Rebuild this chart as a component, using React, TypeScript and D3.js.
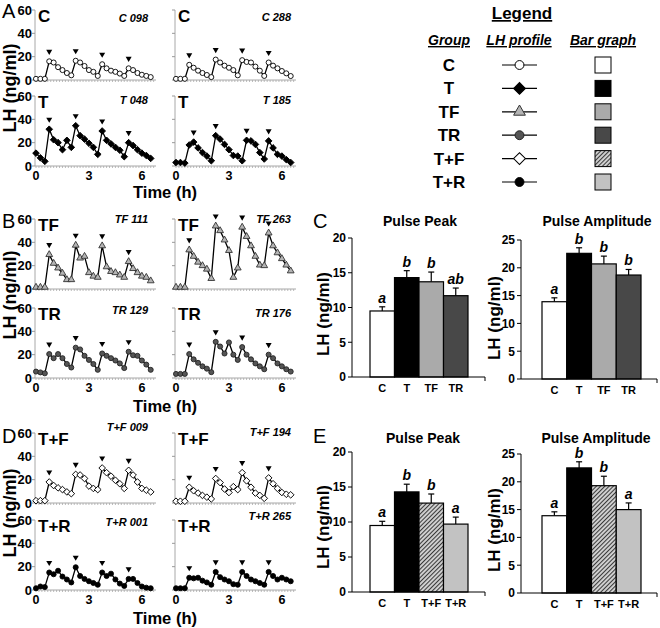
import React from "react";
import * as d3 from "d3";

const FONT = '"Liberation Sans", Arial, Helvetica, sans-serif';

// ---------- LH profile data (ng/ml), sampled every 15 min ----------
const sampleTimes = [0, 0.25, 0.5, 0.75, 1, 1.25, 1.5, 1.75, 2, 2.25, 2.5, 2.75, 3, 3.25, 3.5, 3.75, 4, 4.25, 4.5, 4.75, 5, 5.25, 5.5, 5.75, 6, 6.25, 6.5];

const lhC098 = [1, 1, 1, 16, 15, 11, 8.5, 6, 4, 16.5, 15, 12, 8.5, 7, 3.5, 13.5, 10, 8, 7, 5.5, 3.5, 10, 8.5, 6, 4.5, 3.5, 2.5];
const lhC288 = [1, 1, 1, 13, 10.5, 8, 6, 4.3, 2.5, 17.5, 15, 12.3, 10.5, 8.5, 4, 17, 15.5, 15, 11.5, 8, 3.5, 15, 12.3, 10, 7.7, 5.7, 3.4];
const lhT048 = [11, 7, 4, 31.5, 22.5, 20, 14, 22, 16, 34.5, 26, 23, 19.5, 16, 10, 30, 22, 19, 16, 13.5, 8, 20, 17.5, 14, 11, 9, 6.5];
const lhT185 = [3, 3, 2.5, 18, 20.5, 15.5, 11.5, 8.5, 4.5, 26, 23, 18.5, 14, 9, 8.5, 4.5, 22, 21.5, 18.5, 11.5, 6, 21.5, 15.5, 10, 8.5, 5.5, 3];
const lhTF111 = [1.5, 1.5, 1.5, 29.5, 22, 18, 13.5, 8, 8, 37.5, 26.5, 28, 14, 11, 10, 37, 19, 15, 14, 12, 10, 23.5, 17.5, 14, 11, 10, 7];
const lhTF263 = [1.5, 1.5, 1.5, 33.5, 28, 23, 20, 17, 9, 54, 50, 42, 33, 10, 18, 53, 45, 37, 28, 20.5, 20, 48, 37, 31, 26, 20.5, 15.5];
const lhTR129 = [5.5, 4.8, 4, 20.5, 17, 20.5, 17, 12, 9, 26, 24.5, 19, 15.5, 12, 7, 21, 19, 17, 15, 12.5, 8.5, 22.5, 19.5, 19, 15, 11.5, 7];
const lhTR176 = [3.5, 3.5, 3.5, 20.5, 16, 13, 10, 8, 5, 31, 27, 21, 30.5, 20, 15.5, 26.5, 20, 16, 12.5, 10, 7.5, 20, 17, 12.5, 10, 7.5, 5.5];
const lhTpF009 = [2, 2, 2, 18, 15, 13, 11.5, 9.5, 8, 24.5, 24, 21, 14.5, 12.5, 11.5, 30, 26, 23, 19.5, 16.5, 12.5, 28, 24, 18, 12.5, 11, 9.5];
const lhTpF194 = [1.5, 1.5, 1.5, 13.5, 10.5, 8.5, 6.5, 5, 3.5, 21, 17.5, 12, 9, 14, 11.5, 26, 19, 13.5, 8.5, 6.5, 4, 21.5, 16.5, 12.5, 9, 7.5, 7];
const lhTpR001 = [1.5, 3, 2.5, 15, 13.5, 16.5, 11.5, 9, 6.5, 19.5, 12, 9.5, 7.5, 6, 4.5, 15, 12, 14, 9, 5.5, 3.5, 9.5, 9.5, 6, 3, 2, 1.5];
const lhTpR265 = [1.5, 1.5, 1.5, 10.5, 10, 10.5, 8, 6.5, 4.5, 15.5, 11, 9, 7.5, 5, 4.5, 15.5, 12, 9, 7.5, 6, 4.5, 15.5, 12, 9, 10.5, 9, 7.5];

// pulse onsets (sample index of each marked peak)
const peaksStd = [3, 9, 15, 21];
const peaksT185 = [4, 9, 16, 21];

const profileTicksY = [0, 20, 40, 60];
const profileTicksX = [0, 3, 6];

// ---------- bar graph data ----------
const barGroupsC = ["C", "T", "TF", "TR"];
const peakMeansC = [9.5, 14.3, 13.7, 11.7];
const peakSemC = [0.6, 1.0, 1.4, 1.1];
const peakLettersC = ["a", "b", "b", "ab"];
const ampMeansC = [13.9, 22.6, 20.7, 18.7];
const ampSemC = [0.7, 1.0, 1.4, 1.0];
const ampLettersC = ["a", "b", "b", "b"];

const barGroupsE = ["C", "T", "T+F", "T+R"];
const peakMeansE = [9.5, 14.3, 12.7, 9.7];
const peakSemE = [0.6, 1.1, 1.3, 1.0];
const peakLettersE = ["a", "b", "b", "a"];
const ampMeansE = [13.9, 22.5, 19.3, 15.0];
const ampSemE = [0.7, 1.1, 1.7, 1.2];
const ampLettersE = ["a", "b", "b", "a"];

const peakTicks = [0, 5, 10, 15, 20];
const ampTicks = [0, 5, 10, 15, 20, 25];

const legendGroups = ["C", "T", "TF", "TR", "T+F", "T+R"];

// ---------- styles ----------
const markerStyles: Record<string, { type: string; fill: string; stroke: string }> = {
  C: { type: "circle", fill: "#ffffff", stroke: "#000" },
  T: { type: "diamond", fill: "#000", stroke: "#000" },
  TF: { type: "triangle", fill: "#b4b4b4", stroke: "#333" },
  TR: { type: "circle", fill: "#555", stroke: "#222" },
  "T+F": { type: "diamond", fill: "#ffffff", stroke: "#000" },
  "T+R": { type: "circle", fill: "#000", stroke: "#000" },
};

const barFills: Record<string, string> = {
  C: "#ffffff",
  T: "#000000",
  TF: "#aaaaaa",
  TR: "#484848",
  "T+F": "url(#hatchTF)",
  "T+R": "#c2c2c2",
};

function symbolPath(type: string, big: boolean) {
  if (type === "circle") return d3.symbol(d3.symbolCircle, big ? 62 : 20)() as string;
  if (type === "diamond") return d3.symbol(d3.symbolSquare, big ? 70 : 22)() as string;
  return d3.symbol(d3.symbolTriangle, big ? 60 : 20)() as string;
}

type PlotCfg = {
  values: number[];
  peaks: number[];
  group: string;
  id: string;
  col: number;
  y0: number;
  idY: number;
  bottom: boolean;
};

const plots: PlotCfg[] = [
  { values: lhC098, peaks: peaksStd, group: "C", id: "C 098", col: 0, y0: 80, idY: 22, bottom: false },
  { values: lhC288, peaks: peaksStd, group: "C", id: "C 288", col: 1, y0: 80, idY: 21, bottom: false },
  { values: lhT048, peaks: peaksStd, group: "T", id: "T 048", col: 0, y0: 166, idY: 104, bottom: true },
  { values: lhT185, peaks: peaksT185, group: "T", id: "T 185", col: 1, y0: 166, idY: 104, bottom: true },
  { values: lhTF111, peaks: peaksStd, group: "TF", id: "TF 111", col: 0, y0: 289, idY: 223, bottom: false },
  { values: lhTF263, peaks: peaksStd, group: "TF", id: "TF 263", col: 1, y0: 289, idY: 223, bottom: false },
  { values: lhTR129, peaks: peaksStd, group: "TR", id: "TR 129", col: 0, y0: 378, idY: 314, bottom: true },
  { values: lhTR176, peaks: peaksStd, group: "TR", id: "TR 176", col: 1, y0: 378, idY: 317, bottom: true },
  { values: lhTpF009, peaks: peaksStd, group: "T+F", id: "T+F 009", col: 0, y0: 503, idY: 431, bottom: false },
  { values: lhTpF194, peaks: peaksStd, group: "T+F", id: "T+F 194", col: 1, y0: 503, idY: 436, bottom: false },
  { values: lhTpR001, peaks: peaksStd, group: "T+R", id: "T+R 001", col: 0, y0: 590, idY: 526, bottom: true },
  { values: lhTpR265, peaks: peaksStd, group: "T+R", id: "T+R 265", col: 1, y0: 590, idY: 520, bottom: true },
];

function MiniPlot({ p }: { p: PlotCfg }) {
  const x0 = p.col === 0 ? 36 : 176;
  const x = d3.scaleLinear().domain([0, 6.8]).range([x0, x0 + 120]);
  const y = d3.scaleLinear().domain([0, 60]).range([p.y0, p.y0 - 70]);
  const pts = sampleTimes.map((t, i) => [x(t), y(p.values[i])] as [number, number]);
  const linePath = d3.line()(pts) as string;
  const minor = d3.range(0, 6.8, 1 / 6);
  const st = markerStyles[p.group];
  const sym = symbolPath(st.type, false);
  const rot = st.type === "diamond" ? " rotate(45)" : "";
  return (
    <g>
      <line x1={x0 - 1} x2={x0 - 1} y1={p.y0} y2={y(60)} stroke="#a8a8a8" strokeWidth={1} />
      {profileTicksY.map((v) => (
        <line key={"yt" + v} x1={x0 - 4} x2={x0 - 1} y1={y(v)} y2={y(v)} stroke="#999" strokeWidth={1} />
      ))}
      <line x1={x0 - 1} x2={x0 + 120} y1={p.y0} y2={p.y0} stroke="#a8a8a8" strokeWidth={1} />
      {minor.map((t, i) => (
        <line key={"mt" + i} x1={x(t)} x2={x(t)} y1={p.y0} y2={p.y0 + 2} stroke="#aaa" strokeWidth={0.8} />
      ))}
      {p.col === 0 &&
        profileTicksY.map((v) => (
          <text key={"yl" + v} x={x0 - 4} y={y(v) + 4.5} textAnchor="end" fontWeight="bold" fontSize={13}>
            {v}
          </text>
        ))}
      {p.bottom &&
        profileTicksX.map((v) => (
          <text key={"xl" + v} x={x(v)} y={p.y0 + 14} textAnchor="middle" fontWeight="bold" fontSize={12.5}>
            {v}
          </text>
        ))}
      <path d={linePath} fill="none" stroke="#000" strokeWidth={1.3} />
      {pts.map(([px, py], i) => (
        <path
          key={"m" + i}
          d={sym}
          transform={`translate(${px},${py})${rot}`}
          fill={st.fill}
          stroke={st.stroke}
          strokeWidth={0.9}
        />
      ))}
      {p.peaks.map((i) => (
        <path key={"pk" + i} d="M-3,-2.6L3,-2.6L0,2.6Z" transform={`translate(${pts[i][0]},${pts[i][1] - 9})`} fill="#000" />
      ))}
      <text x={x0 + 2} y={y(60) + 12} fontWeight="bold" fontSize={17}>
        {p.group}
      </text>
      <text x={p.col === 0 ? 148 : 291} y={p.idY} textAnchor="end" fontStyle="italic" fontWeight="bold" fontSize={11}>
        {p.id}
      </text>
    </g>
  );
}

type BarCfg = {
  groups: string[];
  means: number[];
  sems: number[];
  letters: string[];
  ticks: number[];
  axisX: number;
  y0: number;
  ppu: number;
  barStart: number;
  barEnd: number;
  axisEnd: number;
  title: string;
  titleX: number;
  titleY: number;
  ylabX: number;
  ylabY: number;
};

function BarChart({ c }: { c: BarCfg }) {
  const yMax = c.ticks[c.ticks.length - 1];
  const y = d3.scaleLinear().domain([0, yMax]).range([c.y0, c.y0 - yMax * c.ppu]);
  const x = d3.scaleBand().domain(c.groups).range([c.barStart, c.barEnd]).padding(0);
  return (
    <g>
      <text x={c.titleX} y={c.titleY} textAnchor="middle" fontWeight="bold" fontSize={14}>
        {c.title}
      </text>
      <text
        transform={`translate(${c.ylabX},${c.ylabY}) rotate(-90)`}
        textAnchor="middle"
        dominantBaseline="central"
        fontWeight="bold"
        fontSize={17}
      >
        LH (ng/ml)
      </text>
      <line x1={c.axisX} x2={c.axisX} y1={c.y0} y2={y(yMax)} stroke="#000" strokeWidth={1} />
      {c.ticks.map((v) => (
        <g key={"t" + v}>
          <line x1={c.axisX - 4} x2={c.axisX} y1={y(v)} y2={y(v)} stroke="#000" strokeWidth={1} />
          <text x={c.axisX - 6} y={y(v) + 4.3} textAnchor="end" fontWeight="bold" fontSize={12}>
            {v}
          </text>
        </g>
      ))}
      {c.groups.map((g, i) => {
        const bx = x(g) as number;
        const bw = x.bandwidth();
        const cx = bx + bw / 2;
        const top = y(c.means[i]);
        const cap = y(c.means[i] + c.sems[i]);
        return (
          <g key={g}>
            <line x1={cx} x2={cx} y1={top} y2={cap} stroke="#000" strokeWidth={1.2} />
            <line x1={cx - 3} x2={cx + 3} y1={cap} y2={cap} stroke="#000" strokeWidth={1.2} />
            <rect x={bx} y={top} width={bw} height={c.y0 - top} fill={barFills[g]} stroke="#000" strokeWidth={1.2} />
            <text x={cx} y={cap - 4} textAnchor="middle" fontStyle="italic" fontWeight="bold" fontSize={14}>
              {c.letters[i]}
            </text>
            <text x={cx} y={c.y0 + 15} textAnchor="middle" fontWeight="bold" fontSize={11}>
              {g}
            </text>
          </g>
        );
      })}
      <line x1={c.axisX} x2={c.axisEnd} y1={c.y0} y2={c.y0} stroke="#000" strokeWidth={1} />
      <line x1={c.axisEnd} x2={c.axisEnd} y1={c.y0} y2={c.y0 + 4} stroke="#000" strokeWidth={1} />
    </g>
  );
}

const barCharts: BarCfg[] = [
  {
    groups: barGroupsC, means: peakMeansC, sems: peakSemC, letters: peakLettersC, ticks: peakTicks,
    axisX: 352, y0: 377, ppu: 6.95, barStart: 370, barEnd: 468, axisEnd: 485,
    title: "Pulse Peak", titleX: 420, titleY: 226, ylabX: 323, ylabY: 314,
  },
  {
    groups: barGroupsC, means: ampMeansC, sems: ampSemC, letters: ampLettersC, ticks: ampTicks,
    axisX: 521, y0: 379, ppu: 5.56, barStart: 542, barEnd: 641, axisEnd: 657,
    title: "Pulse Amplitude", titleX: 597, titleY: 226, ylabX: 494, ylabY: 318,
  },
  {
    groups: barGroupsE, means: peakMeansE, sems: peakSemE, letters: peakLettersE, ticks: peakTicks,
    axisX: 352, y0: 592, ppu: 7, barStart: 370, barEnd: 468, axisEnd: 485,
    title: "Pulse Peak", titleX: 423, titleY: 443, ylabX: 323, ylabY: 527,
  },
  {
    groups: barGroupsE, means: ampMeansE, sems: ampSemE, letters: ampLettersE, ticks: ampTicks,
    axisX: 521, y0: 593, ppu: 5.56, barStart: 542, barEnd: 641, axisEnd: 657,
    title: "Pulse Amplitude", titleX: 596, titleY: 443, ylabX: 494, ylabY: 530,
  },
];

function Legend() {
  const rowY = d3.scaleLinear().domain([0, legendGroups.length - 1]).range([65, 182]);
  return (
    <g>
      <text x={522} y={19} textAnchor="middle" fontWeight="bold" fontSize={17} textDecoration="underline">
        Legend
      </text>
      {[
        ["Group", 449],
        ["LH profile", 519],
        ["Bar graph", 603],
      ].map(([t, cx]) => (
        <text key={t as string} x={cx as number} y={45} textAnchor="middle" fontWeight="bold" fontStyle="italic" fontSize={14} textDecoration="underline">
          {t}
        </text>
      ))}
      {legendGroups.map((g, i) => {
        const cy = rowY(i);
        const st = markerStyles[g];
        const rot = st.type === "diamond" ? " rotate(45)" : "";
        return (
          <g key={g}>
            <text x={449} y={cy + 6} textAnchor="middle" fontWeight="bold" fontSize={17}>
              {g}
            </text>
            <line x1={502} x2={537} y1={cy} y2={cy} stroke="#000" strokeWidth={1.2} />
            <path d={symbolPath(st.type, true)} transform={`translate(519.5,${cy})${rot}`} fill={st.fill} stroke={st.stroke} strokeWidth={1} />
            <rect x={595} y={cy - 8} width={16} height={16} fill={barFills[g]} stroke="#000" strokeWidth={1} />
          </g>
        );
      })}
    </g>
  );
}

export default function App() {
  return (
    <svg
      width={660}
      height={628}
      viewBox="0 0 660 628"
      style={{ position: "absolute", left: 0, top: 0, background: "#fff" }}
      fontFamily={FONT}
    >
      <defs>
        <pattern id="hatchTF" patternUnits="userSpaceOnUse" width={3} height={3} patternTransform="rotate(45)">
          <rect width={3} height={3} fill="#d2d2d2" />
          <line x1={0.5} y1={0} x2={0.5} y2={3} stroke="#3a3a3a" strokeWidth={1.1} />
        </pattern>
      </defs>
      <rect width={660} height={628} fill="#fff" />

      {/* panel letters */}
      <text x={2} y={18} fontSize={20}>A</text>
      <text x={2} y={228} fontSize={20}>B</text>
      <text x={313} y={228} fontSize={20}>C</text>
      <text x={2} y={443} fontSize={20}>D</text>
      <text x={313} y={443} fontSize={20}>E</text>

      {/* profile y labels */}
      {[88, 295, 513].map((cy) => (
        <text key={"yl" + cy} transform={`translate(10,${cy}) rotate(-90)`} textAnchor="middle" dominantBaseline="central" fontWeight="bold" fontSize={18}>
          LH (ng/ml)
        </text>
      ))}
      {/* time labels */}
      {[198, 412, 624].map((by) => (
        <text key={"tl" + by} x={165} y={by} textAnchor="middle" fontWeight="bold" fontSize={17} textLength={64} lengthAdjust="spacingAndGlyphs">
          Time (h)
        </text>
      ))}

      {plots.map((p) => (
        <MiniPlot key={p.id} p={p} />
      ))}

      <Legend />

      {barCharts.map((c, i) => (
        <BarChart key={i} c={c} />
      ))}
    </svg>
  );
}
